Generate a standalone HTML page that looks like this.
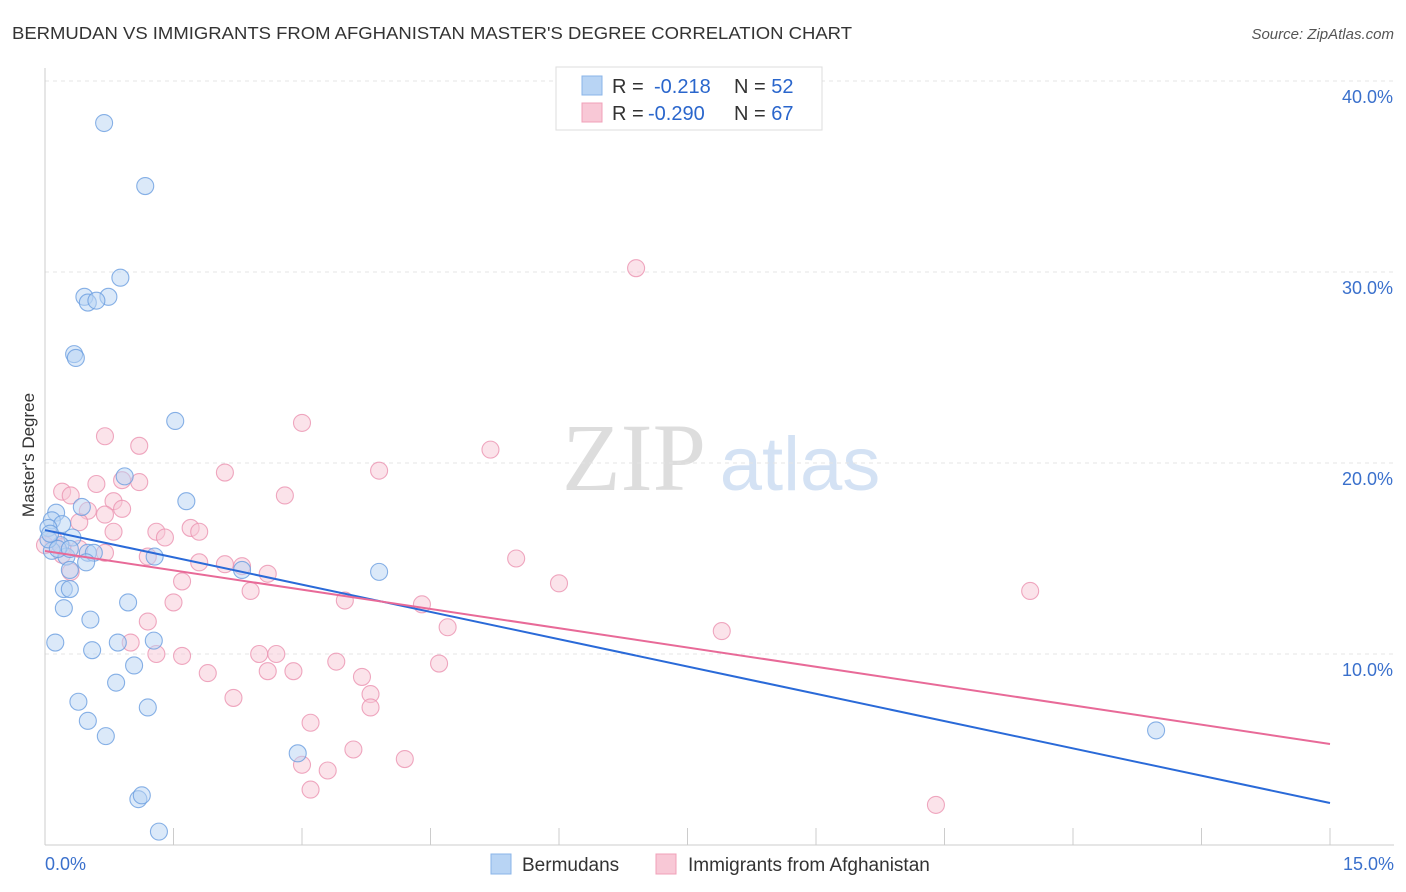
<!DOCTYPE html>
<html><head><meta charset="utf-8"><style>
body{margin:0;background:#fff;font-family:"Liberation Sans",sans-serif;}
#c{position:absolute;left:0;top:0;}
</style></head><body>
<svg id="c" width="1406" height="892" font-family="Liberation Sans, sans-serif">
<text x="12" y="39" font-size="17.5" fill="#333" textLength="840" lengthAdjust="spacingAndGlyphs">BERMUDAN VS IMMIGRANTS FROM AFGHANISTAN MASTER'S DEGREE CORRELATION CHART</text>
<text x="1394" y="39" font-size="15" fill="#555" font-style="italic" text-anchor="end">Source: ZipAtlas.com</text>
<text x="34" y="455" font-size="17" fill="#333" text-anchor="middle" transform="rotate(-90 34 455)">Master's Degree</text>
<g><text x="634" y="490" font-size="96" fill="#ddd" font-family="Liberation Serif, serif" text-anchor="middle">ZIP</text><text x="800" y="490" font-size="76" fill="#d4e2f4" text-anchor="middle">atlas</text></g>
<g id="grid"></g><g id="axes"></g><g id="pts"></g><g id="lines"></g>
<g>
<rect x="556" y="67" width="266" height="63" fill="#fff" stroke="#ddd"/>
<rect x="582" y="76" width="20" height="19" fill="#b8d4f4" stroke="#8ab4e8"/>
<rect x="582" y="103" width="20" height="19" fill="#f8c8d6" stroke="#f0a0b8"/>
<text x="612" y="93" font-size="20" fill="#333">R = <tspan x="654" fill="#2a66cc">-0.218</tspan><tspan x="734">N = </tspan><tspan fill="#2a66cc">52</tspan></text>
<text x="612" y="120" font-size="20" fill="#333">R = <tspan x="648" fill="#2a66cc">-0.290</tspan><tspan x="734">N = </tspan><tspan fill="#2a66cc">67</tspan></text>
</g>
<g>
<rect x="491" y="854" width="20" height="20" fill="#b8d4f4" stroke="#8ab4e8"/>
<text x="522" y="871" font-size="19" fill="#333">Bermudans</text>
<rect x="656" y="854" width="20" height="20" fill="#f8c8d6" stroke="#f0a0b8"/>
<text x="688" y="871" font-size="19" fill="#333">Immigrants from Afghanistan</text>
</g>
</svg>
<script>
const yTicks=[10,20,30,40];
const yTickLabels=["10.0%","20.0%","30.0%","40.0%"];
const xTickLabels=["0.0%","15.0%"];
const bermudanX=[0.69,1.17,0.88,0.46,0.74,0.50,0.60,0.34,0.36,1.52,1.65,0.93,0.43,0.13,0.08,0.20,0.04,0.32,0.18,0.50,0.57,0.08,0.25,0.48,0.29,1.28,2.30,3.90,0.22,0.29,0.22,0.97,0.53,0.12,0.85,1.27,0.55,1.04,0.83,0.39,1.20,0.50,0.71,2.95,1.09,1.13,1.33,12.97,0.04,0.06,0.15,0.29];
const bermudanY=[37.8,34.5,29.7,28.7,28.7,28.4,28.5,25.7,25.5,22.2,18.0,19.3,17.7,17.4,17.0,16.8,16.6,16.1,15.7,15.3,15.3,15.4,15.1,14.8,14.4,15.1,14.4,14.3,13.4,13.4,12.4,12.7,11.8,10.6,10.6,10.7,10.2,9.4,8.5,7.5,7.2,6.5,5.7,4.8,2.4,2.6,0.7,6.0,16.0,16.3,15.5,15.5];
const afghanX=[6.9,3.0,0.7,1.1,5.2,3.9,2.1,0.9,1.1,0.6,0.2,0.3,2.8,0.8,0.5,0.9,0.7,0.4,1.7,1.3,1.8,0.8,1.4,0.1,0.0,0.2,0.4,1.2,0.7,5.5,1.8,2.1,2.3,2.6,0.3,1.6,6.0,11.5,2.4,1.5,3.5,4.4,1.2,4.7,7.9,1.0,1.3,1.6,2.5,2.7,3.4,4.6,1.9,2.6,2.9,3.7,3.8,2.2,3.8,3.1,3.6,4.2,3.0,3.3,3.1,10.4,0.2];
const afghanY=[30.2,22.1,21.4,20.9,20.7,19.6,19.5,19.1,19.0,18.9,18.5,18.3,18.3,18.0,17.5,17.6,17.3,16.9,16.6,16.4,16.4,16.4,16.1,16.0,15.7,15.6,15.5,15.1,15.3,15.0,14.8,14.7,14.6,14.2,14.3,13.8,13.7,13.3,13.3,12.7,12.8,12.6,11.7,11.4,11.2,10.6,10.0,9.9,10.0,10.0,9.6,9.5,9.0,9.1,9.1,8.8,7.9,7.7,7.2,6.4,5.0,4.5,4.2,3.9,2.9,2.1,15.2];
const bermudanTrend=[16.49,2.2];
const afghanTrend=[15.39,5.29];
const NS="http://www.w3.org/2000/svg";
const X=v=>45+v/15*1285, Y=v=>845-v*19.1;
function mk(t,a,p){const e=document.createElementNS(NS,t);for(const k in a)e.setAttribute(k,a[k]);document.getElementById(p).appendChild(e);return e;}
yTicks.forEach((t,i)=>{
 const g=mk('line',{x1:45,x2:1394,y1:Y(t),y2:Y(t),stroke:'#e4e4e4','stroke-dasharray':'4,4'},'grid');
 
 
 const l=mk('text',{x:1393,y:Y(t)+22,'font-size':18,fill:'#3a70cc','text-anchor':'end'},'axes');l.textContent=yTickLabels[i];
 
 
});
let ax=mk('line',{x1:45,x2:45,y1:68,y2:845,stroke:'#ccc'},'axes');


ax=mk('line',{x1:45,x2:1394,y1:845,y2:845,stroke:'#ccc'},'axes');


for(let i=0;i<=10;i++){const t=mk('line',{x1:X(i*1.5),x2:X(i*1.5),y1:828,y2:845,stroke:'#ccc'},'axes');
 
 }
[[0,'start',45],[1,'end',1394]].forEach(([i,a,x])=>{const l=mk('text',{x:x,y:870,'font-size':18,fill:'#3a70cc','text-anchor':a},'axes');l.textContent=xTickLabels[i];
 
 });
function pts(xs,ys,f,s,n){xs.forEach((x,i)=>{const c=mk('circle',{cx:X(x),cy:Y(ys[i]),r:8.5,fill:f,'fill-opacity':0.5,stroke:s,'stroke-opacity':0.8,'stroke-width':1.1},'pts');
 
 });}
pts(afghanX,afghanY,'#f8c8d6','#eb92b0','afghan-point');
pts(bermudanX,bermudanY,'#b8d4f4','#6a9ee0','bermudan-point');
let tl=mk('line',{x1:X(0),y1:Y(bermudanTrend[0]),x2:X(15),y2:Y(bermudanTrend[1]),stroke:'#2a6ad8','stroke-width':2},'lines');


tl=mk('line',{x1:X(0),y1:Y(afghanTrend[0]),x2:X(15),y2:Y(afghanTrend[1]),stroke:'#e86a98','stroke-width':2},'lines');


</script>
</body></html>
